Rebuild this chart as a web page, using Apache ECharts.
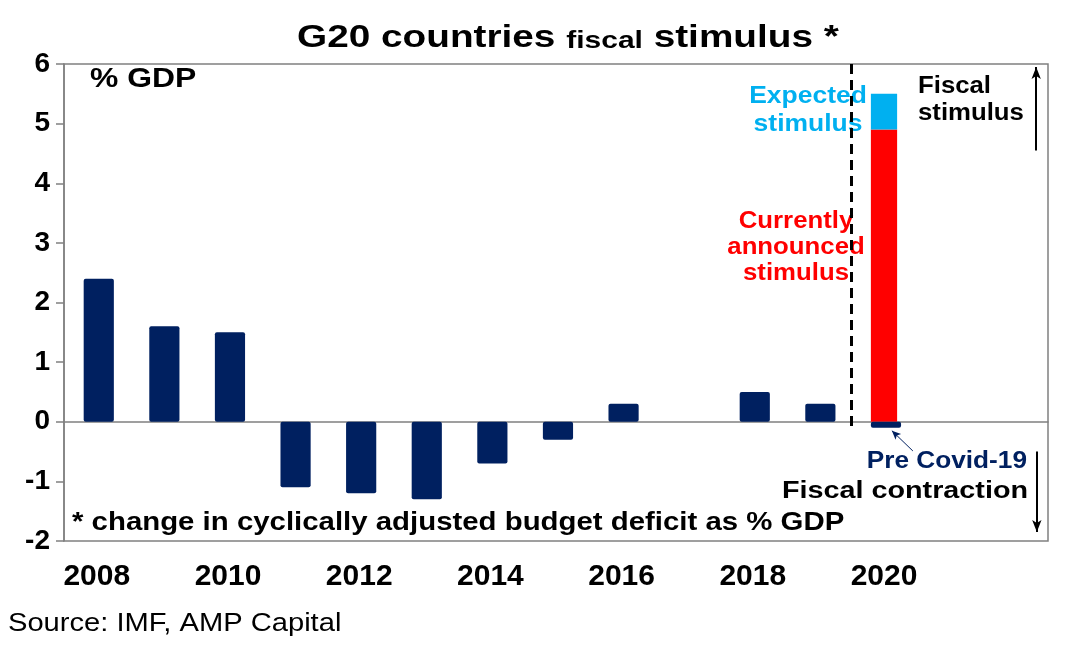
<!DOCTYPE html>
<html>
<head>
<meta charset="utf-8">
<title>G20 countries fiscal stimulus</title>
<script src="https://cdn.jsdelivr.net/npm/echarts@6/dist/echarts.min.js"></script>
<style>
  html, body { margin: 0; padding: 0; background: #fff; }
  #main { width: 1076px; height: 655px; }
</style>
</head>
<body>
<div id="main"></div>
<script>
// data
var years = ['2008', '2009', '2010', '2011', '2012', '2013', '2014', '2015',
             '2016', '2017', '2018', '2019', '2020', '2021', '2022'];
var preCovid = [2.4, 1.6, 1.5, -1.1, -1.2, -1.3, -0.7, -0.3, 0.3, 0, 0.5, 0.3, -0.1, null, null];
var announced = [null, null, null, null, null, null, null, null, null, null, null, null, 4.9, null, null];
var expected = [null, null, null, null, null, null, null, null, null, null, null, null, 0.6, null, null];
var yTicks = [-2, -1, 0, 1, 2, 3, 4, 5, 6];

var FONT = '"Liberation Sans", Arial, sans-serif';
var NAVY = '#002060', RED = '#FF0000', CYAN = '#00B0F0';

var myChart = echarts.init(document.getElementById('main'));

// the original text is a bit stretched sideways, so scaleX is used
function txt(x, y, text, color, size, align, sx, weight, lh) {
  return {
    type: 'text', x: x, y: y, scaleX: sx || 1,
    style: {
      text: text, fill: color, font: (weight || 'bold') + ' ' + size + 'px ' + FONT,
      align: align || 'left', verticalAlign: 'middle', lineHeight: lh || size
    }
  };
}

var option = {
  animation: false,
  grid: { left: 64, right: 28, top: 64, bottom: 114, show: true, borderColor: '#808080', borderWidth: 1.5 },
  xAxis: [
    { // zero line with ticks
      type: 'category', data: years, boundaryGap: true,
      axisLine: { onZero: true, lineStyle: { color: '#808080', width: 1.5 } },
      axisTick: { interval: 1, length: 7, lineStyle: { color: '#808080', width: 1.5 } },
      axisLabel: { show: false }
    },
    { // labels at the bottom
      type: 'category', data: years, position: 'bottom',
      axisLine: { show: false, onZero: false }, axisTick: { show: false },
      axisLabel: {
        interval: 1, margin: 21, color: '#000', fontFamily: FONT, fontWeight: 'bold', fontSize: 30,
        formatter: function (v) { return v === '2022' ? '' : v; }
      }
    },
    { type: 'value', min: 0, max: 15, show: false }
  ],
  yAxis: {
    type: 'value', min: yTicks[0], max: yTicks[yTicks.length - 1], interval: 1,
    axisLine: { show: true, lineStyle: { color: '#808080', width: 1.5 } },
    axisTick: { show: true, length: 8, lineStyle: { color: '#808080', width: 1.5 } },
    splitLine: { show: false },
    axisLabel: { margin: 14, color: '#000', fontFamily: FONT, fontWeight: 'bold', fontSize: 28 }
  },
  series: [
    {
      name: 'Pre Covid-19', type: 'bar', xAxisIndex: 0, data: preCovid,
      barWidth: '46%', barGap: '-100%', z: 3,
      itemStyle: { color: NAVY, borderRadius: 2 }
    },
    {
      name: 'Currently announced', type: 'bar', xAxisIndex: 0, stack: 'covid', data: announced,
      barWidth: '40%', barGap: '-100%', z: 2,
      itemStyle: { color: RED }
    },
    {
      name: 'Expected', type: 'bar', xAxisIndex: 0, stack: 'covid', data: expected,
      barWidth: '40%', barGap: '-100%', z: 2,
      itemStyle: { color: CYAN }
    },
    {
      name: 'notes', type: 'scatter', xAxisIndex: 2, yAxisIndex: 0, data: [], silent: true,
      markLine: {
        silent: true, animation: false, label: { show: false },
        data: [
          [
            { coord: [12, 6], symbol: 'none', lineStyle: { color: '#000', width: 3, type: [10, 6] } },
            { coord: [12, -0.15], symbol: 'none' }
          ],
          [
            { coord: [14.82, 4.55], symbol: 'none', lineStyle: { color: '#000', width: 2, type: 'solid' } },
            { coord: [14.82, 5.95], symbol: 'arrow', symbolSize: [7, 12] }
          ],
          [
            { coord: [14.83, -0.5], symbol: 'none', lineStyle: { color: '#000', width: 2, type: 'solid' } },
            { coord: [14.83, -1.85], symbol: 'arrow', symbolSize: [7, 12] }
          ],
          [
            { coord: [12.94, -0.49], symbol: 'none', lineStyle: { color: NAVY, width: 1, type: 'solid' } },
            { coord: [12.62, -0.15], symbol: 'arrow', symbolSize: [6, 9] }
          ]
        ]
      }
    }
  ],
  graphic: [
    {
      type: 'text', x: 297, y: 38, scaleX: 1.25,
      style: {
        text: '{a|G20 countries }{b|fiscal}{a| stimulus *}', verticalAlign: 'middle',
        rich: {
          a: { fontFamily: FONT, fontWeight: 'bold', fontSize: 31, fill: '#000' },
          b: { fontFamily: FONT, fontWeight: 'bold', fontSize: 24, fill: '#000', padding: [6, 0, 0, 0] }
        }
      }
    },
    txt(90, 80, '% GDP', '#000', 27, 'left', 1.18),
    txt(808, 111, 'Expected\nstimulus', CYAN, 23, 'center', 1.15, 'bold', 28),
    txt(796, 248, 'Currently\nannounced\nstimulus', RED, 23, 'center', 1.12, 'bold', 26),
    txt(918, 100, 'Fiscal\nstimulus', '#000', 23, 'left', 1.12, 'bold', 27),
    txt(1027, 462, 'Pre Covid-19', NAVY, 23, 'right', 1.14),
    txt(1028, 492, 'Fiscal contraction', '#000', 23, 'right', 1.25),
    txt(72, 523, '* change in cyclically adjusted budget deficit as % GDP', '#000', 26, 'left', 1.13),
    txt(8, 624, 'Source: IMF, AMP Capital', '#000', 26, 'left', 1.12, 'normal')
  ]
};

myChart.setOption(option);
</script>
</body>
</html>
